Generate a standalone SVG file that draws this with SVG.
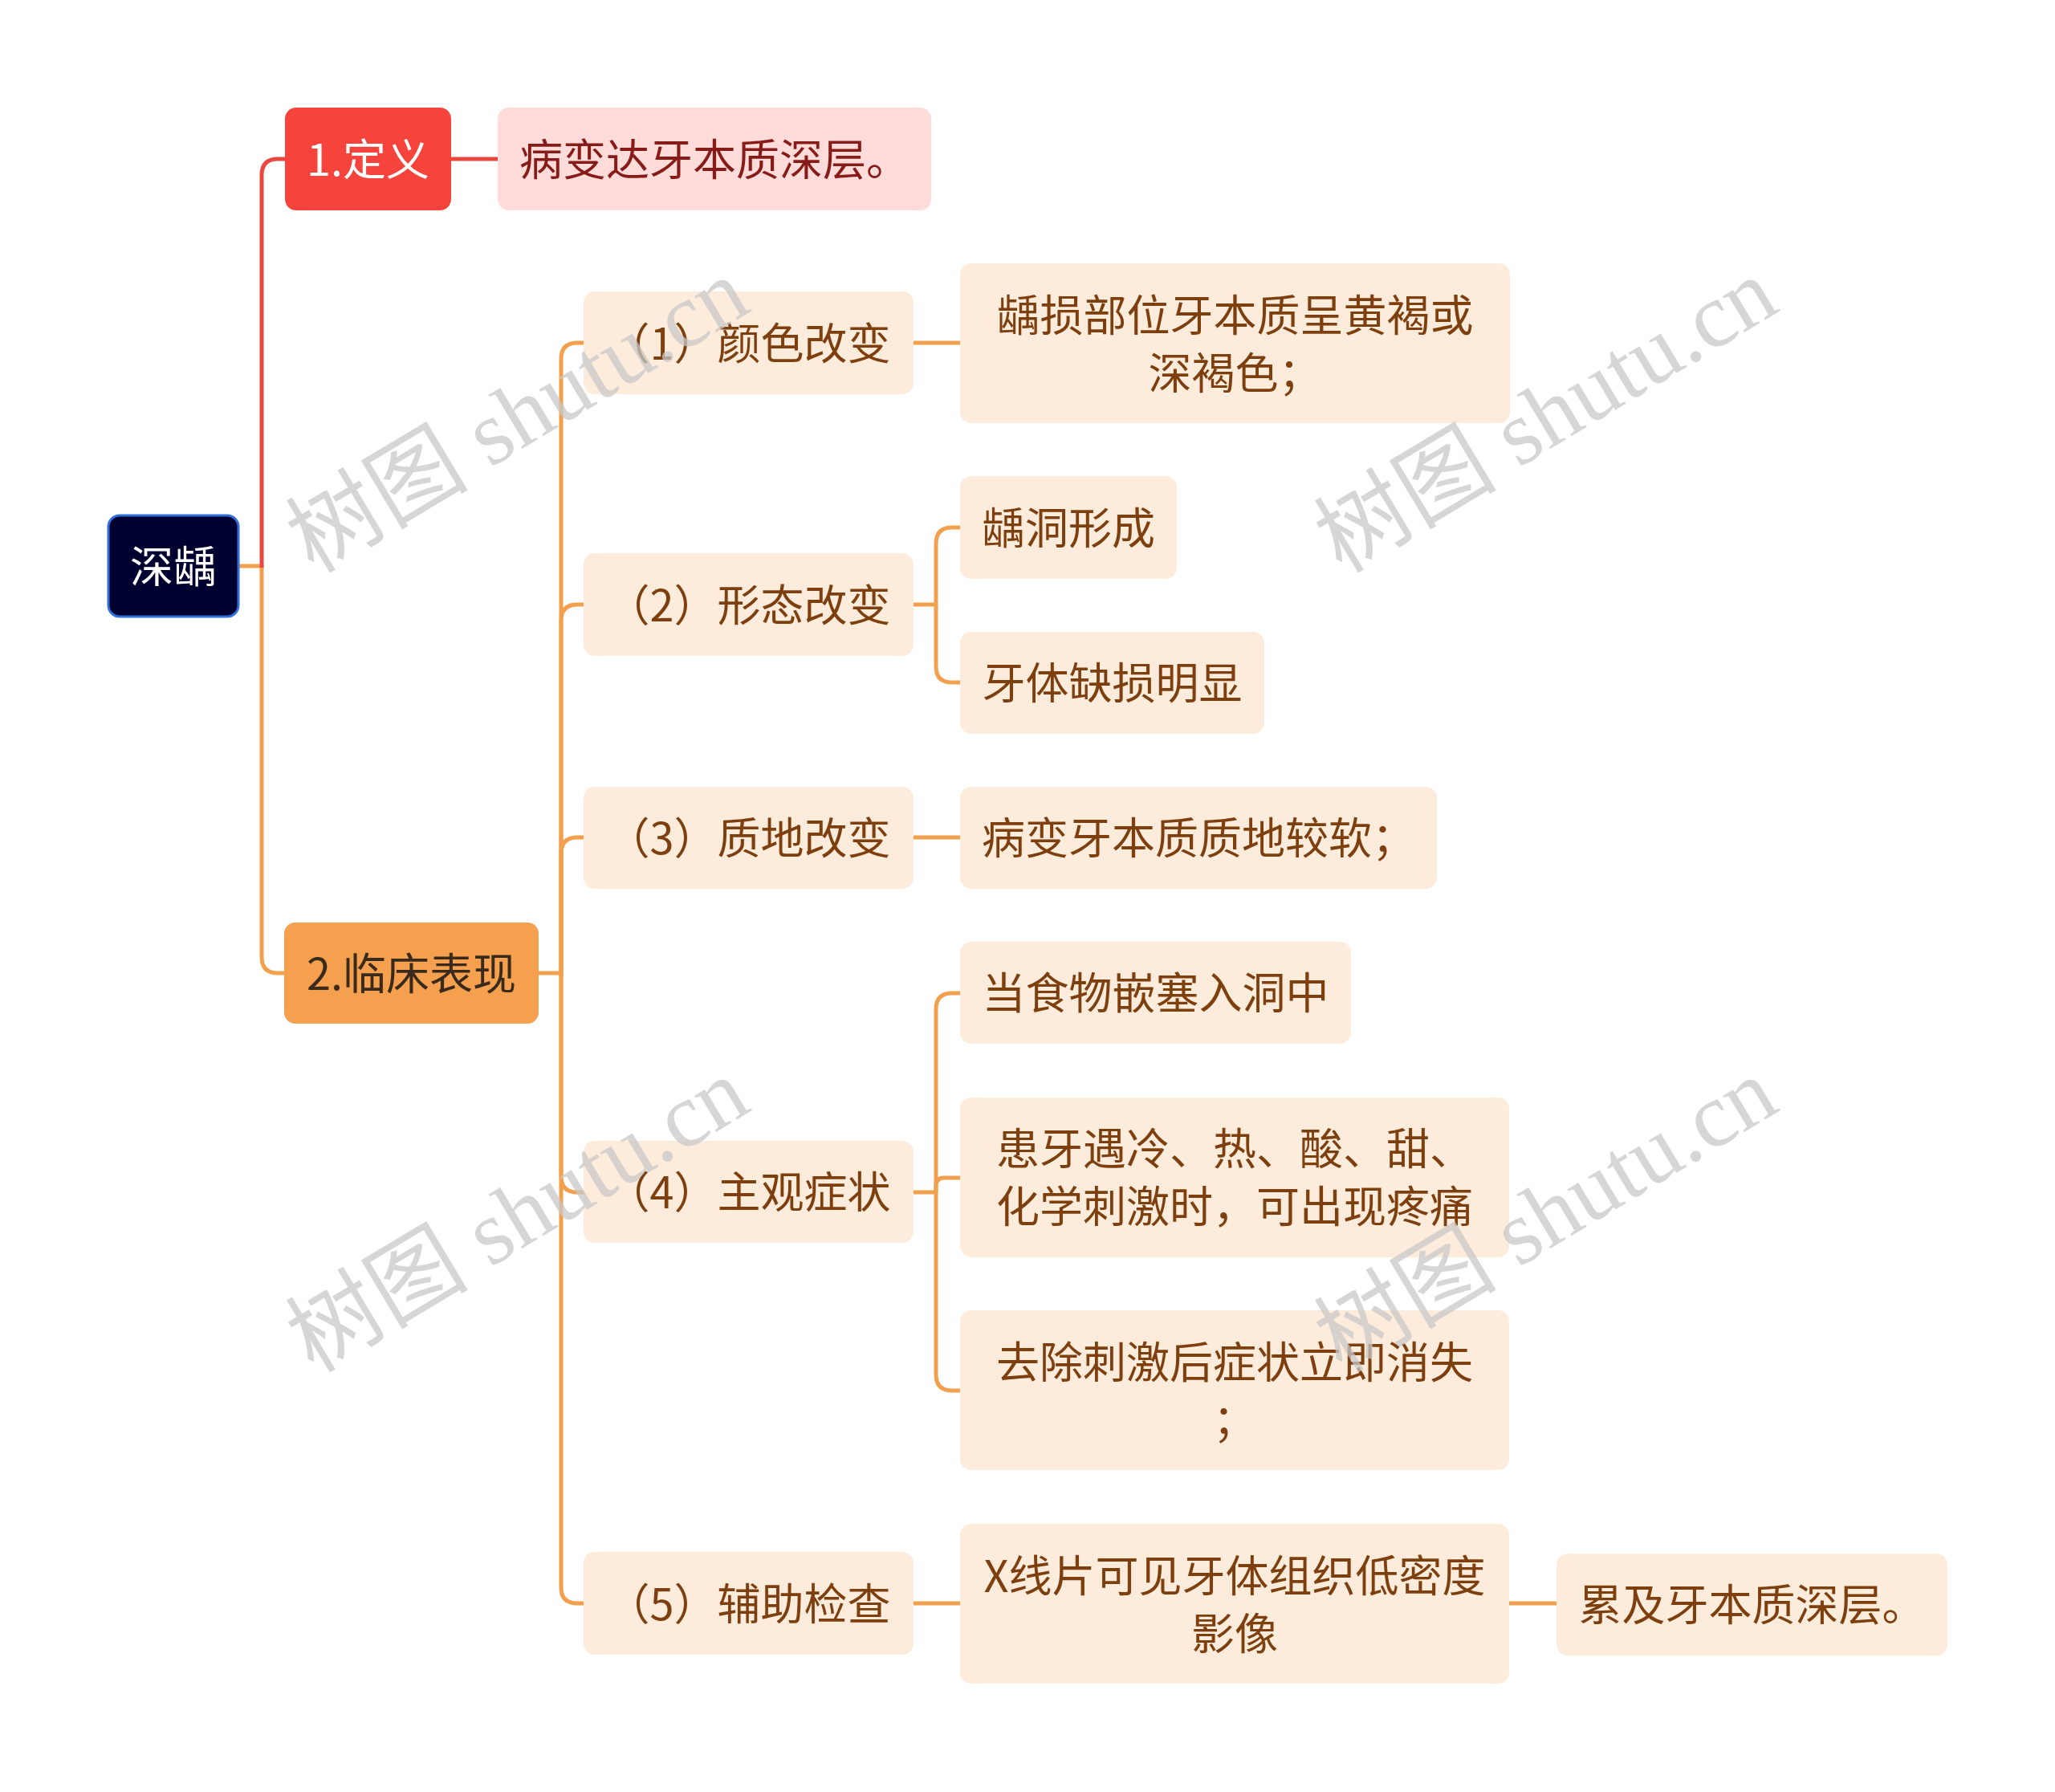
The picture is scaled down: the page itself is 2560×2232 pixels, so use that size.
<svg xmlns="http://www.w3.org/2000/svg" width="2560" height="2232" viewBox="0 0 2560 2232">
<style>
.t{font-family:"Noto Sans CJK SC","Noto Sans",sans-serif;font-size:54px;text-anchor:middle}
.lt{fill:#FDECDC}
.tb{fill:#7E3F0E}
.c{fill:none;stroke-width:5;stroke-linecap:butt;stroke-linejoin:round}
.o{stroke:#F3A04E}
.r{stroke:#EA4740}
.wm{font-family:"Liberation Serif","Noto Sans CJK SC",serif;font-size:114px;fill:#C8C8C8;fill-opacity:0.75;text-anchor:middle}
</style>
<rect width="2560" height="2232" fill="#FFFFFF"/>
<g id="connectors">
<path class="c o" d="M297,705 H326 V1192 Q326,1212 346,1212 H354"/>
<path class="c r" d="M326,707 V218 Q326,198 346,198 H355"/>
<path class="c r" d="M562,198 H620"/>
<path class="c o" d="M671,1212 H699 V447 Q699,427 719,427 H727"/>
<path class="c o" d="M699,1212 V773 Q699,753 719,753 H727"/>
<path class="c o" d="M699,1212 V1063 Q699,1043 719,1043 H727"/>
<path class="c o" d="M699,1212 V1465 Q699,1485 719,1485 H727"/>
<path class="c o" d="M699,1212 V1977 Q699,1997 719,1997 H727"/>
<path class="c o" d="M1138,427 H1196"/>
<path class="c o" d="M1138,753 H1166 V677 Q1166,657 1186,657 H1196"/>
<path class="c o" d="M1166,753 V830 Q1166,850 1186,850 H1196"/>
<path class="c o" d="M1138,1043 H1196"/>
<path class="c o" d="M1138,1485 H1166 V1257 Q1166,1237 1186,1237 H1196"/>
<path class="c o" d="M1166,1485 V1477 Q1166,1467 1176,1467 H1196"/>
<path class="c o" d="M1166,1485 V1712 Q1166,1732 1186,1732 H1196"/>
<path class="c o" d="M1138,1997 H1196"/>
<path class="c o" d="M1880,1997 H1939"/>
</g>
<g id="root">
<rect x="135" y="642" width="162" height="126" rx="14" fill="#000030" stroke="#2F6FD8" stroke-width="3"/>
<text class="t" x="216" y="726" fill="#FFFFFF">深龋</text>
</g>
<g id="n-def">
<rect x="355" y="134" width="207" height="128" rx="14" fill="#F6443C"/>
<text class="t" x="458.5" y="219" fill="#FFFFFF">1.定义</text>
</g>
<g id="n-def-c">
<rect x="620" y="134" width="540" height="128" rx="14" fill="#FFDBDA"/>
<text class="t" x="890" y="219" fill="#861B17">病变达牙本质深层。</text>
</g>
<g id="n-clin">
<rect x="354" y="1149" width="317" height="126" rx="14" fill="#F5A04E"/>
<text class="t" x="512.5" y="1233" fill="#3A2A1C">2.临床表现</text>
</g>
<g id="n1">
<rect class="lt" x="727" y="363" width="411" height="128" rx="14"/>
<text class="t tb" x="932.5" y="448">（1）颜色改变</text>
</g>
<g id="n1c">
<rect class="lt" x="1196" y="328" width="685" height="199" rx="14"/>
<text class="t tb" x="1538.5" y="413">龋损部位牙本质呈黄褐或</text>
<text class="t tb" x="1538.5" y="485">深褐色；</text>
</g>
<g id="n2">
<rect class="lt" x="727" y="689" width="411" height="128" rx="14"/>
<text class="t tb" x="932.5" y="774">（2）形态改变</text>
</g>
<g id="n2a">
<rect class="lt" x="1196" y="593" width="270" height="128" rx="14"/>
<text class="t tb" x="1331" y="678">龋洞形成</text>
</g>
<g id="n2b">
<rect class="lt" x="1196" y="787" width="379" height="127" rx="14"/>
<text class="t tb" x="1385.5" y="871">牙体缺损明显</text>
</g>
<g id="n3">
<rect class="lt" x="727" y="980" width="411" height="127" rx="14"/>
<text class="t tb" x="932.5" y="1064">（3）质地改变</text>
</g>
<g id="n3c">
<rect class="lt" x="1196" y="980" width="594" height="127" rx="14"/>
<text class="t tb" x="1493" y="1064">病变牙本质质地较软；</text>
</g>
<g id="n4">
<rect class="lt" x="727" y="1421" width="411" height="127" rx="14"/>
<text class="t tb" x="932.5" y="1505">（4）主观症状</text>
</g>
<g id="n4a">
<rect class="lt" x="1196" y="1173" width="487" height="127" rx="14"/>
<text class="t tb" x="1439.5" y="1257">当食物嵌塞入洞中</text>
</g>
<g id="n4b">
<rect class="lt" x="1196" y="1367" width="684" height="199" rx="14"/>
<text class="t tb" x="1538" y="1451">患牙遇冷、热、酸、甜、</text>
<text class="t tb" x="1538" y="1523">化学刺激时，可出现疼痛</text>
</g>
<g id="n4c">
<rect class="lt" x="1196" y="1632" width="684" height="199" rx="14"/>
<text class="t tb" x="1538" y="1717">去除刺激后症状立即消失</text>
<text class="t tb" x="1538" y="1789">；</text>
</g>
<g id="n5">
<rect class="lt" x="727" y="1933" width="411" height="128" rx="14"/>
<text class="t tb" x="932.5" y="2018">（5）辅助检查</text>
</g>
<g id="n5c">
<rect class="lt" x="1196" y="1898" width="684" height="199" rx="14"/>
<text class="t tb" x="1538" y="1983">X线片可见牙体组织低密度</text>
<text class="t tb" x="1538" y="2055">影像</text>
</g>
<g id="n5d">
<rect class="lt" x="1939" y="1935" width="487" height="127" rx="14"/>
<text class="t tb" x="2182.5" y="2019">累及牙本质深层。</text>
</g>
<g id="watermarks">
<text class="wm" transform="translate(645,518) rotate(-31)" y="38">树图 shutu.cn</text>
<text class="wm" transform="translate(1926,518) rotate(-31)" y="38">树图 shutu.cn</text>
<text class="wm" transform="translate(645,1514) rotate(-31)" y="38">树图 shutu.cn</text>
<text class="wm" transform="translate(1926,1514) rotate(-31)" y="38">树图 shutu.cn</text>
</g>
</svg>
